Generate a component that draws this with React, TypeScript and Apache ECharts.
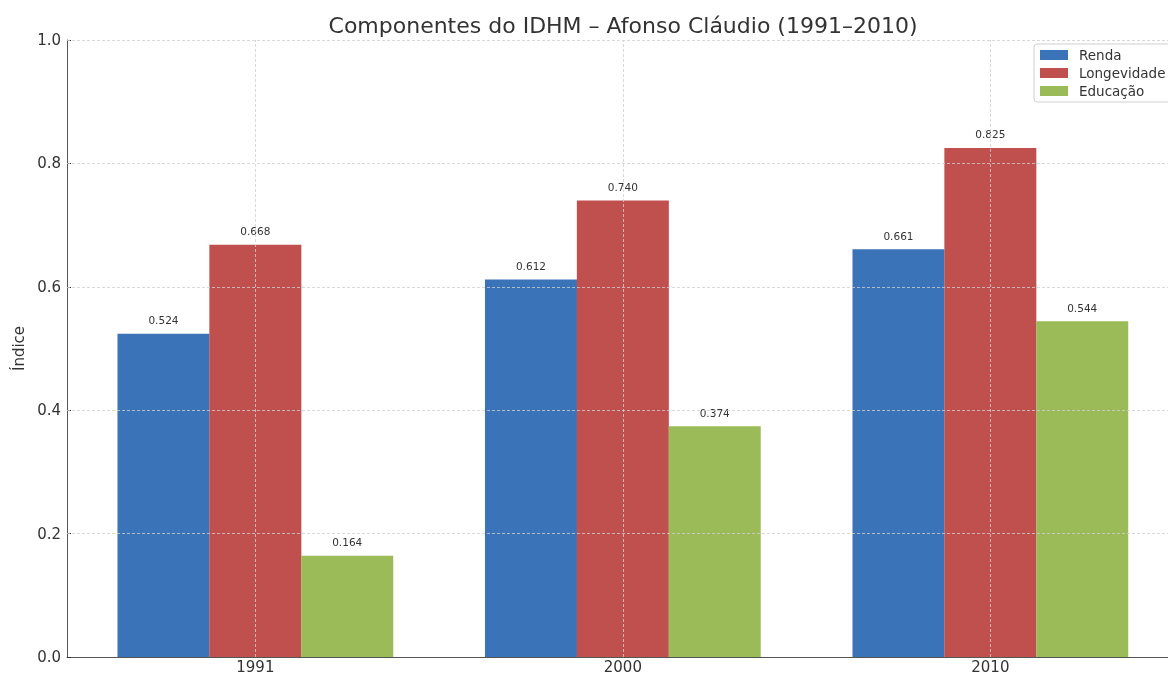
import React, { useEffect, useRef } from "react";
import * as echarts from "echarts";

const years = ["1991", "2000", "2010"];
const renda = [0.524, 0.612, 0.661];
const longevidade = [0.668, 0.74, 0.825];
const educacao = [0.164, 0.374, 0.544];
const yTicks = [0.2, 0.4, 0.6, 0.8, 1.0];
const seriesNames = ["Renda", "Longevidade", "Educação"];
const colors = ["#3a73b7", "#c0504d", "#9bbb59"];
const offsets = [-0.25, 0, 0.25];

const FONT = "DejaVu Sans";

export default function App() {
  const ref = useRef<HTMLDivElement>(null);
  useEffect(() => {
    if (!ref.current) return;
    const chart = echarts.init(ref.current, undefined, { renderer: "svg" });
    const values = [renda, longevidade, educacao];
    const barSeries = values.map((vals, si) => ({
      name: seriesNames[si],
      type: "bar",
      data: vals.map((v, i) => [i + offsets[si], v]),
      barWidth: 92,
      barGap: "-100%",
      itemStyle: { color: colors[si] },
      z: 2,
      label: {
        show: true,
        position: "top",
        distance: 8,
        fontSize: 10.5,
        fontFamily: FONT,
        color: "#333",
        formatter: (p: any) => Number(p.value[1]).toFixed(3),
      },
    }));
    const gridLines = {
      name: "_grid",
      type: "line",
      data: [],
      z: 10,
      silent: true,
      markLine: {
        silent: true,
        symbol: "none",
        animation: false,
        label: { show: false },
        lineStyle: { color: "#cfcfcf", type: [3, 2], width: 0.8 },
        data: [
          ...years.map((_, i) => ({ xAxis: i })),
          ...yTicks.map((v) => ({ yAxis: v })),
        ],
      },
    };
    chart.setOption({
      animation: false,
      grid: { left: 67, top: 40, bottom: 13, right: 0, containLabel: false },
      graphic: [
        {
          type: "text",
          x: 623,
          y: 25,
          style: {
            text: "Componentes do IDHM – Afonso Cláudio (1991–2010)",
            textAlign: "center",
            textVerticalAlign: "middle",
            font: `22px '${FONT}'`,
            fill: "#333",
          },
        },
      ],
      legend: {
        data: seriesNames,
        orient: "vertical",
        left: 1034,
        top: 44,
        padding: [4, 6, 4, 6],
        itemGap: 4,
        itemWidth: 28,
        itemHeight: 10,
        icon: "rect",
        backgroundColor: "#fff",
        borderColor: "#d0d0d0",
        borderWidth: 1,
        borderRadius: 3,
        textStyle: {
          fontFamily: FONT,
          fontSize: 13.5,
          lineHeight: 14,
          color: "#333",
          padding: [0, 0, 0, 6],
        },
        z: 20,
      },
      xAxis: {
        type: "value",
        min: -0.5125,
        max: 2.4834,
        splitLine: { show: false },
        axisLine: { show: true, onZero: false, lineStyle: { color: "#555", width: 1 } },
        axisTick: {
          show: true,
          inside: true,
          customValues: [0, 1, 2],
          length: 4,
          lineStyle: { color: "#333" },
        },
        axisLabel: {
          customValues: [0, 1, 2],
          formatter: (v: number) => years[Math.round(v)] ?? "",
          fontFamily: FONT,
          fontSize: 15,
          color: "#333",
          margin: 2,
        },
      },
      yAxis: {
        type: "value",
        min: 0,
        max: 1,
        interval: 0.2,
        name: "Índice",
        nameLocation: "middle",
        nameGap: 39,
        nameTextStyle: { fontFamily: FONT, fontSize: 15, color: "#333" },
        splitLine: { show: false },
        axisLine: { show: true, onZero: false, lineStyle: { color: "#555", width: 1 } },
        axisTick: { show: true, inside: true, length: 4, lineStyle: { color: "#333" } },
        axisLabel: {
          formatter: (v: number) => v.toFixed(1),
          fontFamily: FONT,
          fontSize: 15,
          color: "#333",
          margin: 6,
        },
      },
      series: [...barSeries, gridLines],
    });
    return () => chart.dispose();
  }, []);
  return (
    <div
      ref={ref}
      style={{ position: "fixed", left: 0, top: 0, width: 1168, height: 674 }}
    />
  );
}
